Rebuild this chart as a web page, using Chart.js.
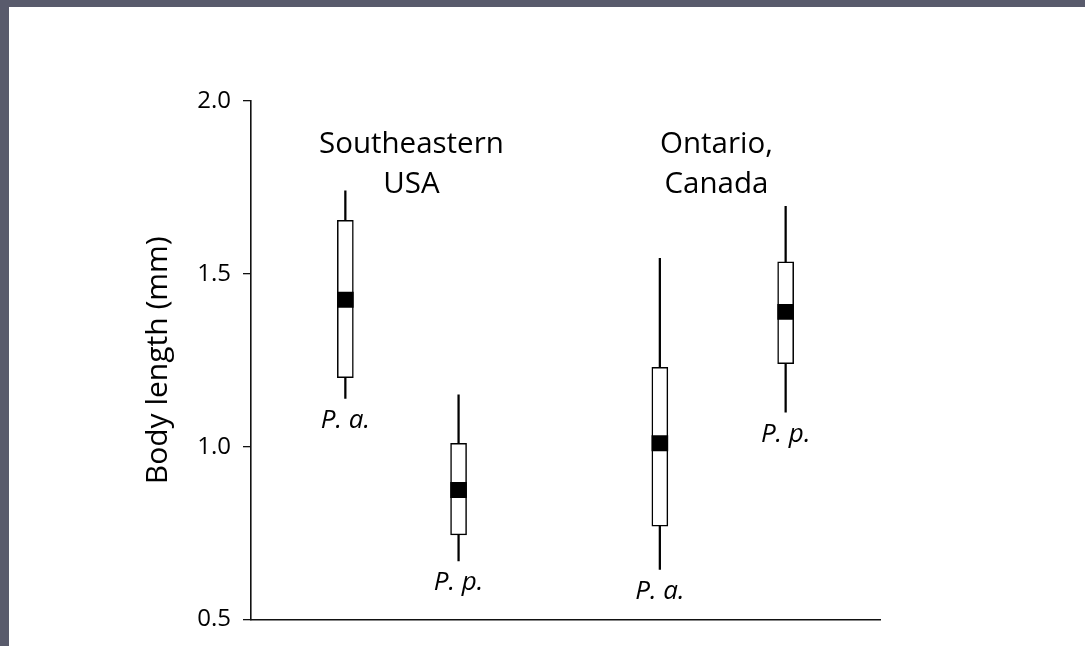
<!DOCTYPE html>
<html>
<head>
<meta charset="utf-8">
<script src="https://cdn.jsdelivr.net/npm/chart.js@4/dist/chart.umd.min.js"></script>
<style>
    body { margin: 0; background: #595b6c; width: 1085px; height: 646px; overflow: hidden; }
    #wrap { position: absolute; left: 9px; top: 7px; width: 1076px; height: 639px; background: #fff; }
</style>
</head>
<body>
<div id="wrap"><canvas id="boxChart" width="1076" height="639"></canvas></div>
<script>
// Dữ liệu
const regions = ["Southeastern\nUSA", "Ontario,\nCanada"];
const species = ["P. a.", "P. p.", "P. a.", "P. p."];
const whiskerLow = [1.14, 0.67, 0.645, 1.10];
const q1 = [1.20, 0.745, 0.77, 1.24];
const median = [1.425, 0.875, 1.01, 1.39];
const q3 = [1.655, 1.01, 1.23, 1.535];
const whiskerHigh = [1.74, 1.15, 1.545, 1.695];
const yTicks = [0.5, 1.0, 1.5, 2.0];

// vị trí trên trục x (0..10)
const slots = [1.5, 3.3, 6.5, 8.5];
const headerSlots = [2.55, 7.4];

const FONT = "'Open Sans', 'Noto Sans', sans-serif";

const whiskerData = slots.map((x, i) => ({ x: x, y: [whiskerLow[i], whiskerHigh[i]] }));
const boxData = slots.map((x, i) => ({ x: x, y: [q1[i], q3[i]] }));
const medianData = slots.map((x, i) => ({ x: x, y: [median[i] - 0.022, median[i] + 0.022] }));

const textPlugin = {
    id: "boxText",
    afterDraw(chart) {
        const ctx = chart.ctx;
        const xs = chart.scales.x;
        const ys = chart.scales.y;
        ctx.save();
        ctx.fillStyle = "#000";
        // tên vùng
        ctx.font = "29.5px " + FONT;
        ctx.textAlign = "center";
        ctx.textBaseline = "alphabetic";
        regions.forEach((r, i) => {
            const x = xs.getPixelForValue(headerSlots[i]);
            const y = ys.getPixelForValue(1.849);
            r.split("\n").forEach((line, j) => ctx.fillText(line, x, y + j * 40));
        });
        // tên loài
        ctx.font = "italic 26px " + FONT;
        ctx.textBaseline = "top";
        species.forEach((s, i) => {
            const x = xs.getPixelForValue(slots[i]);
            const y = ys.getPixelForValue(whiskerLow[i]) + 9;
            ctx.fillText(s, x, y);
        });
        ctx.restore();
    }
};

new Chart(document.getElementById("boxChart").getContext("2d"), {
    type: "bar",
    data: {
        datasets: [
            {
                data: whiskerData,
                backgroundColor: "#000",
                barThickness: 1.6,
                grouped: false,
                order: 3
            },
            {
                data: boxData,
                backgroundColor: "#fff",
                borderColor: "#000",
                borderWidth: 1.5,
                borderSkipped: false,
                barThickness: 16,
                grouped: false,
                order: 2
            },
            {
                data: medianData,
                backgroundColor: "#000",
                borderSkipped: false,
                barThickness: 16,
                grouped: false,
                order: 1
            }
        ]
    },
    options: {
        responsive: false,
        animation: false,
        devicePixelRatio: 1,
        layout: { padding: { left: 0, right: 205, top: 94, bottom: 26 } },
        plugins: {
            legend: { display: false },
            tooltip: { enabled: false }
        },
        scales: {
            x: {
                type: "linear",
                min: 0,
                max: 10,
                offset: false,
                ticks: { display: false },
                grid: { display: true, drawOnChartArea: false, drawTicks: false, color: "rgba(0,0,0,0)" },
                border: { display: true, color: "#111", width: 1.6 },
                afterFit: (scale) => { scale.height = 0; }
            },
            y: {
                min: 0.5,
                max: 2.0,
                afterBuildTicks: (scale) => { scale.ticks = yTicks.map(v => ({ value: v })); },
                ticks: {
                    padding: 12,
                    color: "#000",
                    font: { family: FONT, size: 24 },
                    callback: (v) => Number(v).toFixed(1)
                },
                grid: { display: true, drawOnChartArea: false, drawTicks: true, tickLength: 8, color: "#111", lineWidth: 1.3 },
                border: { display: true, color: "#111", width: 1.6 },
                title: {
                    display: true,
                    text: "Body length (mm)",
                    color: "#000",
                    font: { family: FONT, size: 30 },
                    padding: { top: 131, bottom: 0 }
                },
                afterFit: (scale) => { scale.width = 242; }
            }
        }
    },
    plugins: [textPlugin]
});
</script>
</body>
</html>
